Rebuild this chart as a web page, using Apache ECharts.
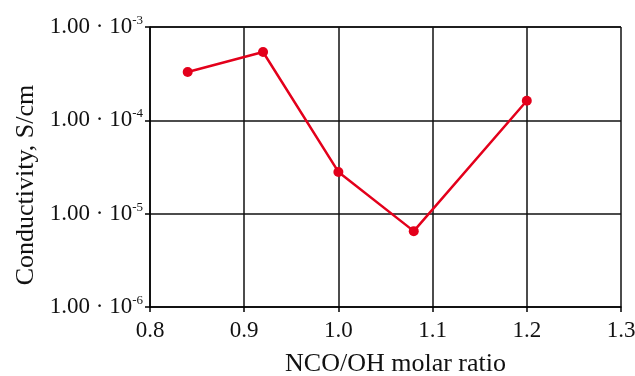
<!DOCTYPE html>
<html>
<head>
<meta charset="utf-8">
<script src="https://cdn.jsdelivr.net/npm/echarts@6/dist/echarts.min.js"></script>
<style>
html,body{margin:0;padding:0;background:#fff;}
#chart{width:635px;height:376px;}
</style>
</head>
<body>
<div id="chart"></div>
<script>
const ratios = [0.84, 0.92, 1.0, 1.08, 1.2];
const conductivity = [3.3e-4, 5.4e-4, 2.8e-5, 6.5e-6, 1.62e-4];
const xTicks = ['0.8', '0.9', '1.0', '1.1', '1.2', '1.3'];
const yTickExponents = [-6, -5, -4, -3];
const xTitle = 'NCO/OH molar ratio';
const yTitle = 'Conductivity, S/cm';

const FONT = '"Palatino Linotype", "Book Antiqua", Palatino, "Liberation Serif", serif';
const chart = echarts.init(document.getElementById('chart'));
chart.setOption({
  animation: false,
  grid: {left: 150, right: 14, top: 27, bottom: 69, containLabel: false, outerBoundsMode: 'none'},
  xAxis: {
    type: 'value',
    min: 0.8, max: 1.3, interval: 0.1,
    name: xTitle,
    nameLocation: 'middle',
    nameGap: 44,
    nameTextStyle: {fontFamily: FONT, fontSize: 26, color: '#111', padding: [0, 0, 0, 20]},
    axisLine: {lineStyle: {color: '#000', width: 1.5}},
    axisTick: {show: true, length: 5, lineStyle: {color: '#000', width: 1.5}},
    axisLabel: {
      fontFamily: FONT, fontSize: 23, color: '#111', margin: 12,
      formatter: function (v) { const i = Math.round((v - 0.8) / 0.1); return xTicks[i] !== undefined ? xTicks[i] : ''; }
    },
    splitLine: {show: true, lineStyle: {color: '#111', width: 1.5}}
  },
  yAxis: {
    type: 'log', logBase: 10,
    min: Math.pow(10, yTickExponents[0]),
    max: Math.pow(10, yTickExponents[yTickExponents.length - 1]),
    name: yTitle,
    nameLocation: 'middle',
    nameGap: 111,
    nameTextStyle: {fontFamily: FONT, fontSize: 26, color: '#111', padding: [0, 36, 0, 0]},
    axisLine: {show: true, lineStyle: {color: '#000', width: 1.5}},
    axisTick: {show: true, length: 5, lineStyle: {color: '#000', width: 1.5}},
    axisLabel: {
      margin: 7,
      formatter: function (v) {
        const e = Math.round(Math.log10(v));
        return '{a|1.00 · 10}{b|' + e + '}';
      },
      rich: {
        a: {fontFamily: FONT, fontSize: 23, color: '#111'},
        b: {fontFamily: FONT, fontSize: 13, color: '#111', padding: [0, 0, 13, 0]}
      }
    },
    splitLine: {show: true, lineStyle: {color: '#111', width: 1.5}}
  },
  series: [{
    type: 'line',
    data: ratios.map((r, i) => [r, conductivity[i]]),
    symbol: 'circle',
    symbolSize: 10,
    lineStyle: {color: '#e3001b', width: 2.5},
    itemStyle: {color: '#e3001b'}
  }]
});
</script>
</body>
</html>
